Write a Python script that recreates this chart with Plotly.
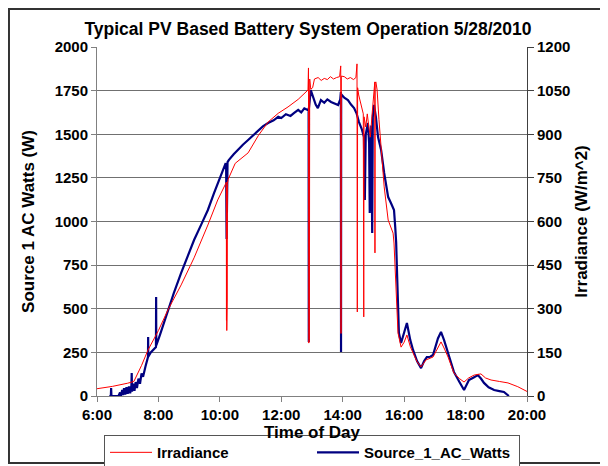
import plotly.graph_objects as go

# ---- data (hours of day) ----
irr_time = [6.00, 6.50, 7.00, 7.20, 7.45, 7.66, 8.00, 8.31, 8.74, 9.16, 9.61, 9.93,
            10.18, 10.21, 10.215, 10.22, 10.225, 10.23, 10.24, 10.245, 10.27, 10.50,
            10.92, 11.25, 11.57, 11.90, 12.22, 12.55, 12.80, 12.87, 12.885, 12.895,
            12.905, 12.915, 12.925, 12.96, 13.02, 13.08, 13.2, 13.3, 13.4, 13.5, 13.6,
            13.7, 13.8, 13.9, 13.935, 13.945, 13.955, 14.05, 14.15, 14.25, 14.35, 14.43,
            14.465, 14.475, 14.485, 14.52, 14.60, 14.67, 14.685, 14.695, 14.75, 14.80,
            14.85, 14.90, 14.95, 15.02, 15.045, 15.05, 15.055, 15.08, 15.12, 15.18,
            15.25, 15.35, 15.48, 15.64, 15.67, 15.74, 15.80, 15.90, 16.00, 16.09, 16.20,
            16.29, 16.42, 16.55, 16.71, 16.94, 17.10, 17.20, 17.30, 17.43, 17.62, 17.80,
            17.95, 18.10, 18.28, 18.50, 18.65, 18.83, 19.10, 19.38, 19.70, 20.03]
irradiance = [25, 33, 44, 50, 105, 158, 225, 296, 382, 475, 588, 674,
              728, 735, 260, 720, 225, 700, 330, 730, 745, 800,
              836, 895, 942, 972, 994, 1020, 1045, 1052, 1128, 182,
              1120, 195, 1090, 1055, 1060, 1090, 1095, 1085, 1092, 1088, 1098,
              1090, 1095, 1098, 1135, 215, 1100, 1098, 1090, 1095, 1088, 1095,
              1142, 289, 1060, 1035, 994, 970, 272, 960, 925, 970,
              925, 890, 960, 1076, 1080, 492, 1075, 1080, 1052, 950,
              846, 719, 605, 560, 526, 330, 217, 168, 185, 210, 170,
              148, 118, 100, 124, 134, 165, 186, 165, 134, 79, 60,
              48, 62, 72, 76, 62, 55, 50, 45, 32, 14]

watts_time = [6.40, 6.45, 6.46, 6.47, 6.70, 6.75, 6.78, 6.82, 6.85, 6.88, 6.92, 6.96,
              7.00, 7.04, 7.08, 7.12, 7.13, 7.14, 7.18, 7.22, 7.26, 7.30, 7.35, 7.40,
              7.45, 7.50, 7.58, 7.66, 7.665, 7.67, 7.75, 7.85, 7.92, 7.925, 7.93, 8.05,
              8.31, 8.50, 8.74, 8.95, 9.16, 9.40, 9.61, 9.81, 10.00, 10.19, 10.205, 10.21,
              10.215, 10.22, 10.225, 10.23, 10.25, 10.29, 10.45, 10.58, 10.75, 10.92,
              11.10, 11.25, 11.40, 11.57, 11.75, 11.90, 12.00, 12.15, 12.30, 12.42, 12.55,
              12.65, 12.75, 12.86, 12.89, 12.895, 12.90, 12.96, 13.05, 13.12, 13.19, 13.25,
              13.29, 13.40, 13.50, 13.62, 13.75, 13.85, 13.92, 13.94, 13.945, 13.95, 14.05,
              14.17, 14.27, 14.37, 14.45, 14.53, 14.62, 14.69, 14.72, 14.75, 14.82, 14.86,
              14.88, 14.90, 14.93, 14.96, 14.98, 15.02, 15.08, 15.15, 15.25, 15.35, 15.42,
              15.48, 15.57, 15.67, 15.71, 15.74, 15.77, 15.80, 15.83, 15.90, 16.00, 16.09,
              16.20, 16.29, 16.42, 16.55, 16.65, 16.74, 16.85, 16.94, 17.10, 17.20, 17.30,
              17.43, 17.62, 17.80, 17.95, 18.05, 18.11, 18.25, 18.40, 18.50, 18.60, 18.75,
              18.93, 19.10, 19.25, 19.41]
watts = [0, 0, 46, 0, 0, 20, 0, 35, 5, 45, 8, 50,
         12, 55, 15, 60, 132, 25, 70, 30, 80, 45, 100, 70,
         130, 110, 170, 223, 338, 225, 250, 270, 281, 567, 290, 350,
         493, 590, 705, 800, 894, 985, 1066, 1163, 1250, 1335, 1300, 950,
         1290, 900, 1320, 1050, 1340, 1352, 1385, 1410, 1440, 1467,
         1495, 1524, 1545, 1564, 1580, 1600, 1593, 1615, 1605, 1622, 1640,
         1625, 1648, 1639, 1645, 309, 1650, 1753, 1700, 1670, 1650, 1680,
         1696, 1680, 1700, 1685, 1675, 1668, 1700, 1742, 252, 1730, 1710,
         1696, 1670, 1650, 1620, 1570, 1530, 1484, 1123, 1500, 1564, 1450,
         1049, 1380, 1550, 934, 1600, 1668, 1600, 1484, 1410, 1278, 1200,
         1140, 1106, 1066, 968, 880, 700, 510, 361, 304, 360, 418,
         320, 264, 200, 160, 200, 223, 225, 235, 330, 367, 320,
         246, 138, 80, 34, 70, 92, 105, 120, 100, 75, 50,
         34, 28, 23, 0]

x_tickvals = [6, 8, 10, 12, 14, 16, 18, 20]
x_ticktext = ["6:00", "8:00", "10:00", "12:00", "14:00", "16:00", "18:00", "20:00"]
left_ticks = [0, 250, 500, 750, 1000, 1250, 1500, 1750, 2000]
right_ticks = [0, 150, 300, 450, 600, 750, 900, 1050, 1200]

FONT = "Liberation Sans, Arial, sans-serif"

fig = go.Figure()
fig.add_trace(go.Scatter(x=irr_time, y=irradiance, name="Irradiance", mode="lines",
                         line=dict(color="#ff0000", width=1), yaxis="y2"))
fig.add_trace(go.Scatter(x=watts_time, y=watts, name="Source_1_AC_Watts", mode="lines",
                         line=dict(color="#000080", width=2.2), yaxis="y"))

tickfont = dict(family=FONT, size=15, color="#000000", weight="bold")
titlefont = dict(family=FONT, size=17, color="#000000")
fig.update_layout(
    width=600, height=458,
    margin=dict(l=89, r=81, t=39, b=70, autoexpand=False),
    paper_bgcolor="white", plot_bgcolor="white",
    font=dict(family=FONT, color="#000000"),
    title=dict(text="<b>Typical PV Based Battery System Operation 5/28/2010</b>",
               x=0.5, xanchor="center", y=0.954, yanchor="middle",
               font=dict(family=FONT, size=17.5, color="#000000")),
    showlegend=True,
    legend=dict(orientation="h", x=0.5, xanchor="center", y=-0.112, yanchor="top",
                bordercolor="#555555", borderwidth=1, bgcolor="white",
                font=dict(family=FONT, size=15, color="#000000", weight="bold"),
                itemwidth=42, entrywidth=150, tracegroupgap=0),
    xaxis=dict(range=[6, 20], tickvals=x_tickvals, ticktext=x_ticktext,
               showgrid=False, zeroline=False, showline=True, linecolor="#808080",
               linewidth=1, ticks="outside", ticklen=5, tickcolor="#808080",
               tickfont=tickfont, automargin=False,
               title=dict(text="<b>Time of Day</b>", standoff=2, font=titlefont)),
    yaxis=dict(range=[0, 2000], tickvals=left_ticks, showgrid=True,
               gridcolor="#707070", gridwidth=1, zeroline=False, showline=True,
               linecolor="#808080", linewidth=1, ticks="outside", ticklen=5,
               tickcolor="#808080", tickfont=tickfont, automargin=False,
               title=dict(text="<b>Source 1 AC Watts (W)</b>", standoff=15,
                          font=titlefont)),
    yaxis2=dict(range=[0, 1200], tickvals=right_ticks, overlaying="y", side="right",
                showgrid=False, zeroline=False, showline=True, linecolor="#404040",
                linewidth=1, ticks="outside", ticklen=6, tickcolor="#404040",
                tickfont=tickfont, automargin=False,
                title=dict(text="<b>Irradiance (W/m^2)</b>", standoff=5,
                           font=titlefont)),
    shapes=[dict(type="rect", xref="paper", yref="paper",
                 x0=-0.2047, x1=1.179, y0=-0.192, y1=1.109,
                 line=dict(color="#333333", width=2), fillcolor="rgba(0,0,0,0)",
                 layer="below")],
)

fig.write_html("out.html")
